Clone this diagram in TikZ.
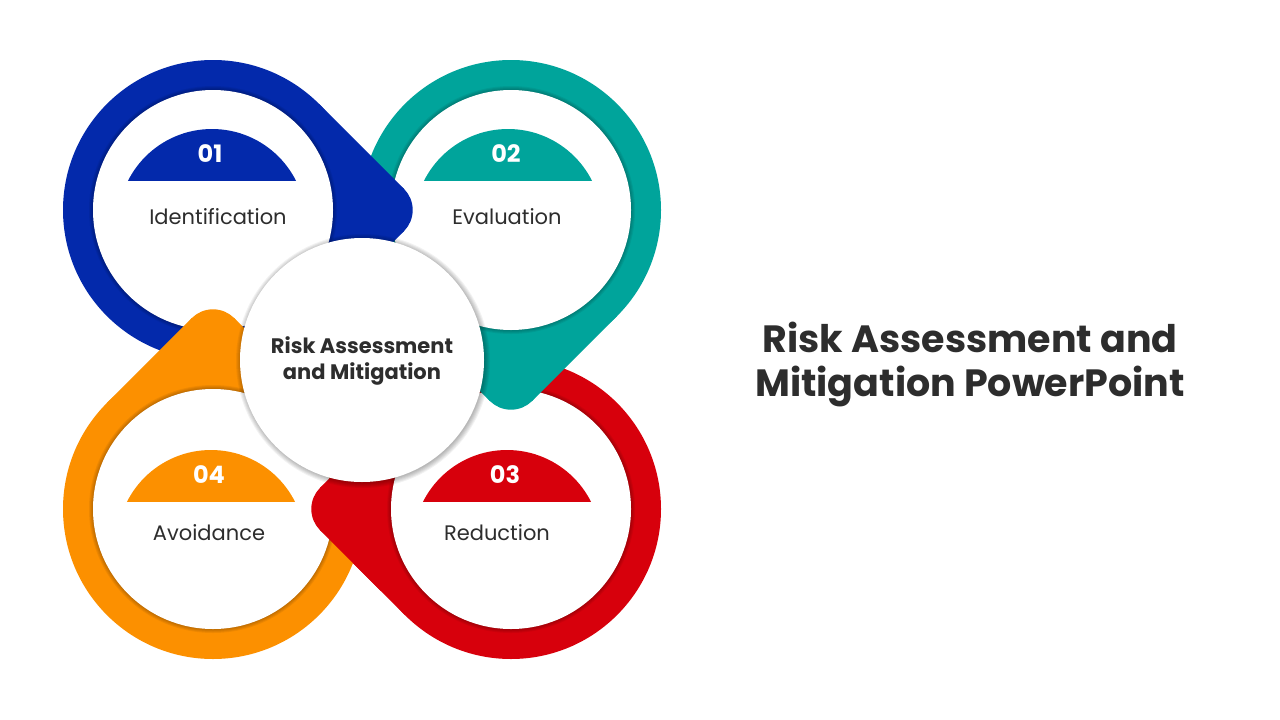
\documentclass[tikz,border=0pt]{standalone}
\usepackage{fontspec}
\setmainfont{Poppins}
\usetikzlibrary{calc}

\definecolor{riskblue}{RGB}{3,41,171}
\definecolor{riskteal}{RGB}{0,164,155}
\definecolor{riskred}{RGB}{215,0,12}
\definecolor{riskorange}{RGB}{252,144,0}
\definecolor{textgray}{RGB}{45,45,45}

%% colored drop: circle r=150 with one rounded corner in direction #3
\newcommand{\drawpetal}[4]{%
  \fill[#4] (#1,#2) circle (150);
  \fill[#4] (#1,#2) -- ($(#1,#2)+(#3-45:150)$)
    -- ($(#1,#2)+(#3-45:150)+(#3+45:120)$)
    -- ($(#1,#2)+(#3+45:150)+(#3-45:120)$)
    -- ($(#1,#2)+(#3+45:150)$) -- cycle;
  \fill[#4] ($(#1,#2)+(#3:169.7)$) circle (30);
}

%% white inner disc with soft shadow on the ring
\newcommand{\drawinner}[2]{%
  \foreach \k in {1,...,5} \fill[black, opacity=0.06] (#1,#2) circle (119+\k);
  \fill[white] (#1,#2) circle (120);
}

%% colored cap above the number line
\newcommand{\drawcap}[4]{%
  \begin{scope}
    \clip (#1-100,#2-70) rectangle (#1+100,#2);
    \fill[#3] (#1,#2+43) circle (94);
  \end{scope}
  \node[petalnum] at (#1-2,#2-26) {#4};
}

\tikzset{
  petalnum/.style={font=\fontsize{24}{28}\selectfont\bfseries, text=white},
  petallabel/.style={font=\fontsize{21}{24}\selectfont, text=textgray},
  hubtext/.style={font=\fontsize{21}{26}\selectfont\bfseries, text=textgray, align=center},
  titletext/.style={font=\fontsize{38}{44}\selectfont\bfseries, text=textgray, align=center}
}

\begin{document}
\begin{tikzpicture}[x=1pt,y=-1pt]
\useasboundingbox (0,0) rectangle (1280,720);
\fill[white] (0,0) rectangle (1280,720);

%% drops
\drawpetal{511}{509}{180}{riskred}
\drawinner{511}{509}
\drawpetal{511}{210}{90}{riskteal}
\drawinner{511}{210}
\drawpetal{213}{210}{0}{riskblue}
\drawinner{213}{210}
\drawpetal{213}{509}{270}{riskorange}
\drawinner{213}{509}

%% red tip lies over the orange drop
\begin{scope}
  \clip (285,430) rectangle (387,590);
  \drawpetal{511}{509}{180}{riskred}
\end{scope}

%% caps and numbers
\drawcap{212}{180}{riskblue}{01}
\drawcap{508}{180}{riskteal}{02}
\drawcap{507}{501}{riskred}{03}
\drawcap{211}{501}{riskorange}{04}

%% labels
\node[petallabel] (ident) at (218,217) {Identification};
\node[petallabel] (evalu) at (507,217) {Evaluation};
\node[petallabel] (reduc) at (497,533) {Reduction};
\node[petallabel] (avoid) at (209,533) {Avoidance};

%% hub
\foreach \k in {1,...,6} \fill[black, opacity=0.05] (363,361) circle (121+\k);
\fill[white] (362,360) circle (122);
\node[hubtext] (hub) at (362,361) {Risk Assessment\\and Mitigation};

%% title
\node[titletext] (title) at (970,365) {Risk Assessment and\\Mitigation PowerPoint};
\end{tikzpicture}
\end{document}
